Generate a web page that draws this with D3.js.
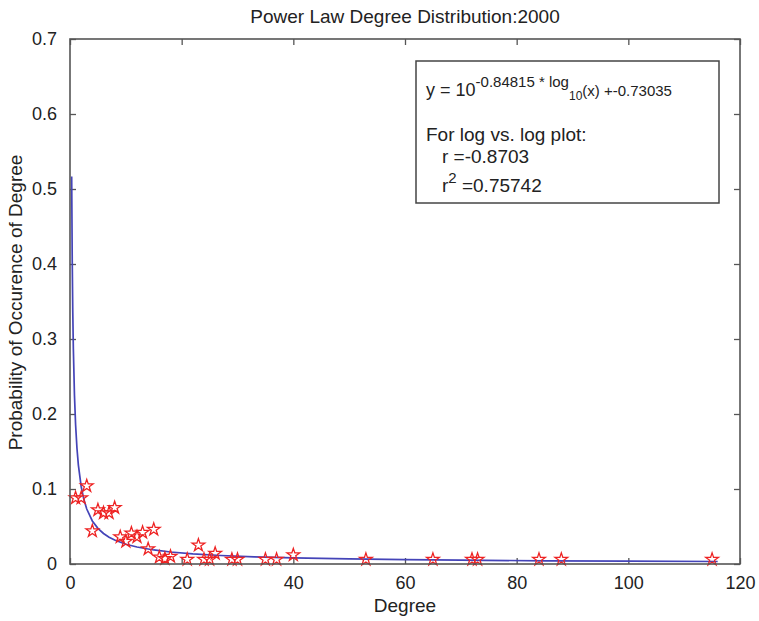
<!DOCTYPE html>
<html>
<head>
<meta charset="utf-8">
<script src="https://cdn.jsdelivr.net/npm/d3@7"></script>
<style>
  body { margin: 0; background: #fff; }
  text { font-family: "Liberation Sans", Arial, sans-serif; fill: #222; }
</style>
</head>
<body>
<svg id="chart" width="759" height="621"></svg>
<script>
// degree values and their observed probability
var degrees = [1, 2, 3, 4, 5, 6, 7, 8, 9, 10, 11, 12, 13, 14, 15, 16, 17, 18, 21, 23, 24, 25, 26, 29, 30, 35, 37, 40, 53, 65, 72, 73, 84, 88, 115];
var probs = [0.088, 0.088, 0.104, 0.044, 0.072, 0.068, 0.068, 0.075, 0.036, 0.030, 0.041, 0.036, 0.042, 0.020, 0.046, 0.009, 0.007, 0.010, 0.006, 0.025, 0.006, 0.006, 0.014, 0.006, 0.006, 0.006, 0.006, 0.012, 0.006, 0.006, 0.006, 0.006, 0.006, 0.006, 0.006];

// fit coefficients from the annotation
var slope = -0.84815, intercept = -0.73035;
var fitX = [0.3, 0.4, 0.5, 0.6, 0.8, 1, 1.25, 1.5, 2, 2.5, 3, 4, 5, 6, 7, 8, 10, 12, 15, 18, 22, 27, 33, 40, 50, 60, 70, 85, 100, 116];

var xTicks = [0, 20, 40, 60, 80, 100, 120];
var yTicks = [0, 0.1, 0.2, 0.3, 0.4, 0.5, 0.6, 0.7];

var svg = d3.select("#chart"),
    margin = {top: 39, right: 19, bottom: 57, left: 70},
    width = +svg.attr("width") - margin.left - margin.right,
    height = +svg.attr("height") - margin.top - margin.bottom;

var x = d3.scaleLinear().domain([0, 120]).range([0, width]);
var y = d3.scaleLinear().domain([0, 0.7]).range([height, 0]);

var g = svg.append("g")
    .attr("transform", "translate(" + margin.left + "," + margin.top + ")");

var axisColor = "#555";

// bottom and left axes with inward ticks
var xAxis = g.append("g")
    .attr("transform", "translate(0," + height + ")")
    .call(d3.axisBottom(x).tickValues(xTicks).tickSizeInner(-6).tickSizeOuter(0).tickPadding(12).tickFormat(d3.format("d")));
var yAxis = g.append("g")
    .call(d3.axisLeft(y).tickValues(yTicks).tickSizeInner(-6).tickSizeOuter(0).tickPadding(13).tickFormat(function(d) { return d === 0 ? "0" : d3.format(".1f")(d); }));
// top and right ticks
var xTop = g.append("g")
    .call(d3.axisTop(x).tickValues(xTicks).tickSizeInner(-6).tickSizeOuter(0).tickFormat(""));
var yRight = g.append("g")
    .attr("transform", "translate(" + width + ",0)")
    .call(d3.axisRight(y).tickValues(yTicks).tickSizeInner(-6).tickSizeOuter(0).tickFormat(""));

[xAxis, yAxis, xTop, yRight].forEach(function(a) {
  a.select(".domain").remove();
  a.selectAll("line").attr("stroke", axisColor).attr("stroke-width", 1.3);
  a.selectAll("text").style("font-size", "18px").attr("fill", "#333");
});

// fit curve
var line = d3.line()
    .x(function(d) { return x(d); })
    .y(function(d) { return y(Math.pow(10, slope * Math.log10(d) + intercept)); });

g.append("path")
    .datum(fitX)
    .attr("d", line)
    .attr("fill", "none")
    .attr("stroke", "#4444b8")
    .attr("stroke-width", 1.7);

// data points
g.selectAll(".pt")
    .data(degrees)
    .enter().append("path")
    .attr("class", "pt")
    .attr("transform", function(d, i) { return "translate(" + x(d) + "," + y(probs[i]) + ")"; })
    .attr("d", d3.symbol().type(d3.symbolStar).size(50))
    .attr("fill", "none")
    .attr("stroke", "#ee2222")
    .attr("stroke-width", 1.3);

// frame
g.append("rect")
    .attr("width", width)
    .attr("height", height)
    .attr("fill", "none")
    .attr("stroke", axisColor)
    .attr("stroke-width", 1.6);

// title and labels
svg.append("text")
    .attr("x", margin.left + width / 2)
    .attr("y", 23)
    .attr("text-anchor", "middle")
    .style("font-size", "19px")
    .text("Power Law Degree Distribution:2000");

svg.append("text")
    .attr("x", margin.left + width / 2)
    .attr("y", 612)
    .attr("text-anchor", "middle")
    .style("font-size", "19px")
    .text("Degree");

svg.append("text")
    .attr("transform", "translate(22," + (margin.top + height / 2 + 1) + ") rotate(-90)")
    .attr("text-anchor", "middle")
    .style("font-size", "19px")
    .text("Probability of Occurence of Degree");

// annotation box
var box = svg.append("g").attr("transform", "translate(416,61)");
box.append("rect")
    .attr("width", 303)
    .attr("height", 142)
    .attr("fill", "#fff")
    .attr("stroke", "#444")
    .attr("stroke-width", 1.5);

var t1 = box.append("text").attr("x", 10).attr("y", 35).style("font-size", "18px");
t1.append("tspan").text("y = 10");
t1.append("tspan").attr("dy", -9).style("font-size", "15px").text(slope + " * log");
t1.append("tspan").attr("dy", 13).style("font-size", "12px").text("10");
t1.append("tspan").attr("dy", -4).style("font-size", "15px").text("(x) +" + intercept);

box.append("text").attr("x", 10).attr("y", 80).style("font-size", "19px").text("For log vs. log plot:");
box.append("text").attr("x", 26).attr("y", 102).style("font-size", "19px").text("r =-0.8703");
var t4 = box.append("text").attr("x", 26).attr("y", 131).style("font-size", "19px");
t4.append("tspan").text("r");
t4.append("tspan").attr("dy", -9).style("font-size", "15px").text("2");
t4.append("tspan").attr("dy", 9).text(" =0.75742");
</script>
</body>
</html>
